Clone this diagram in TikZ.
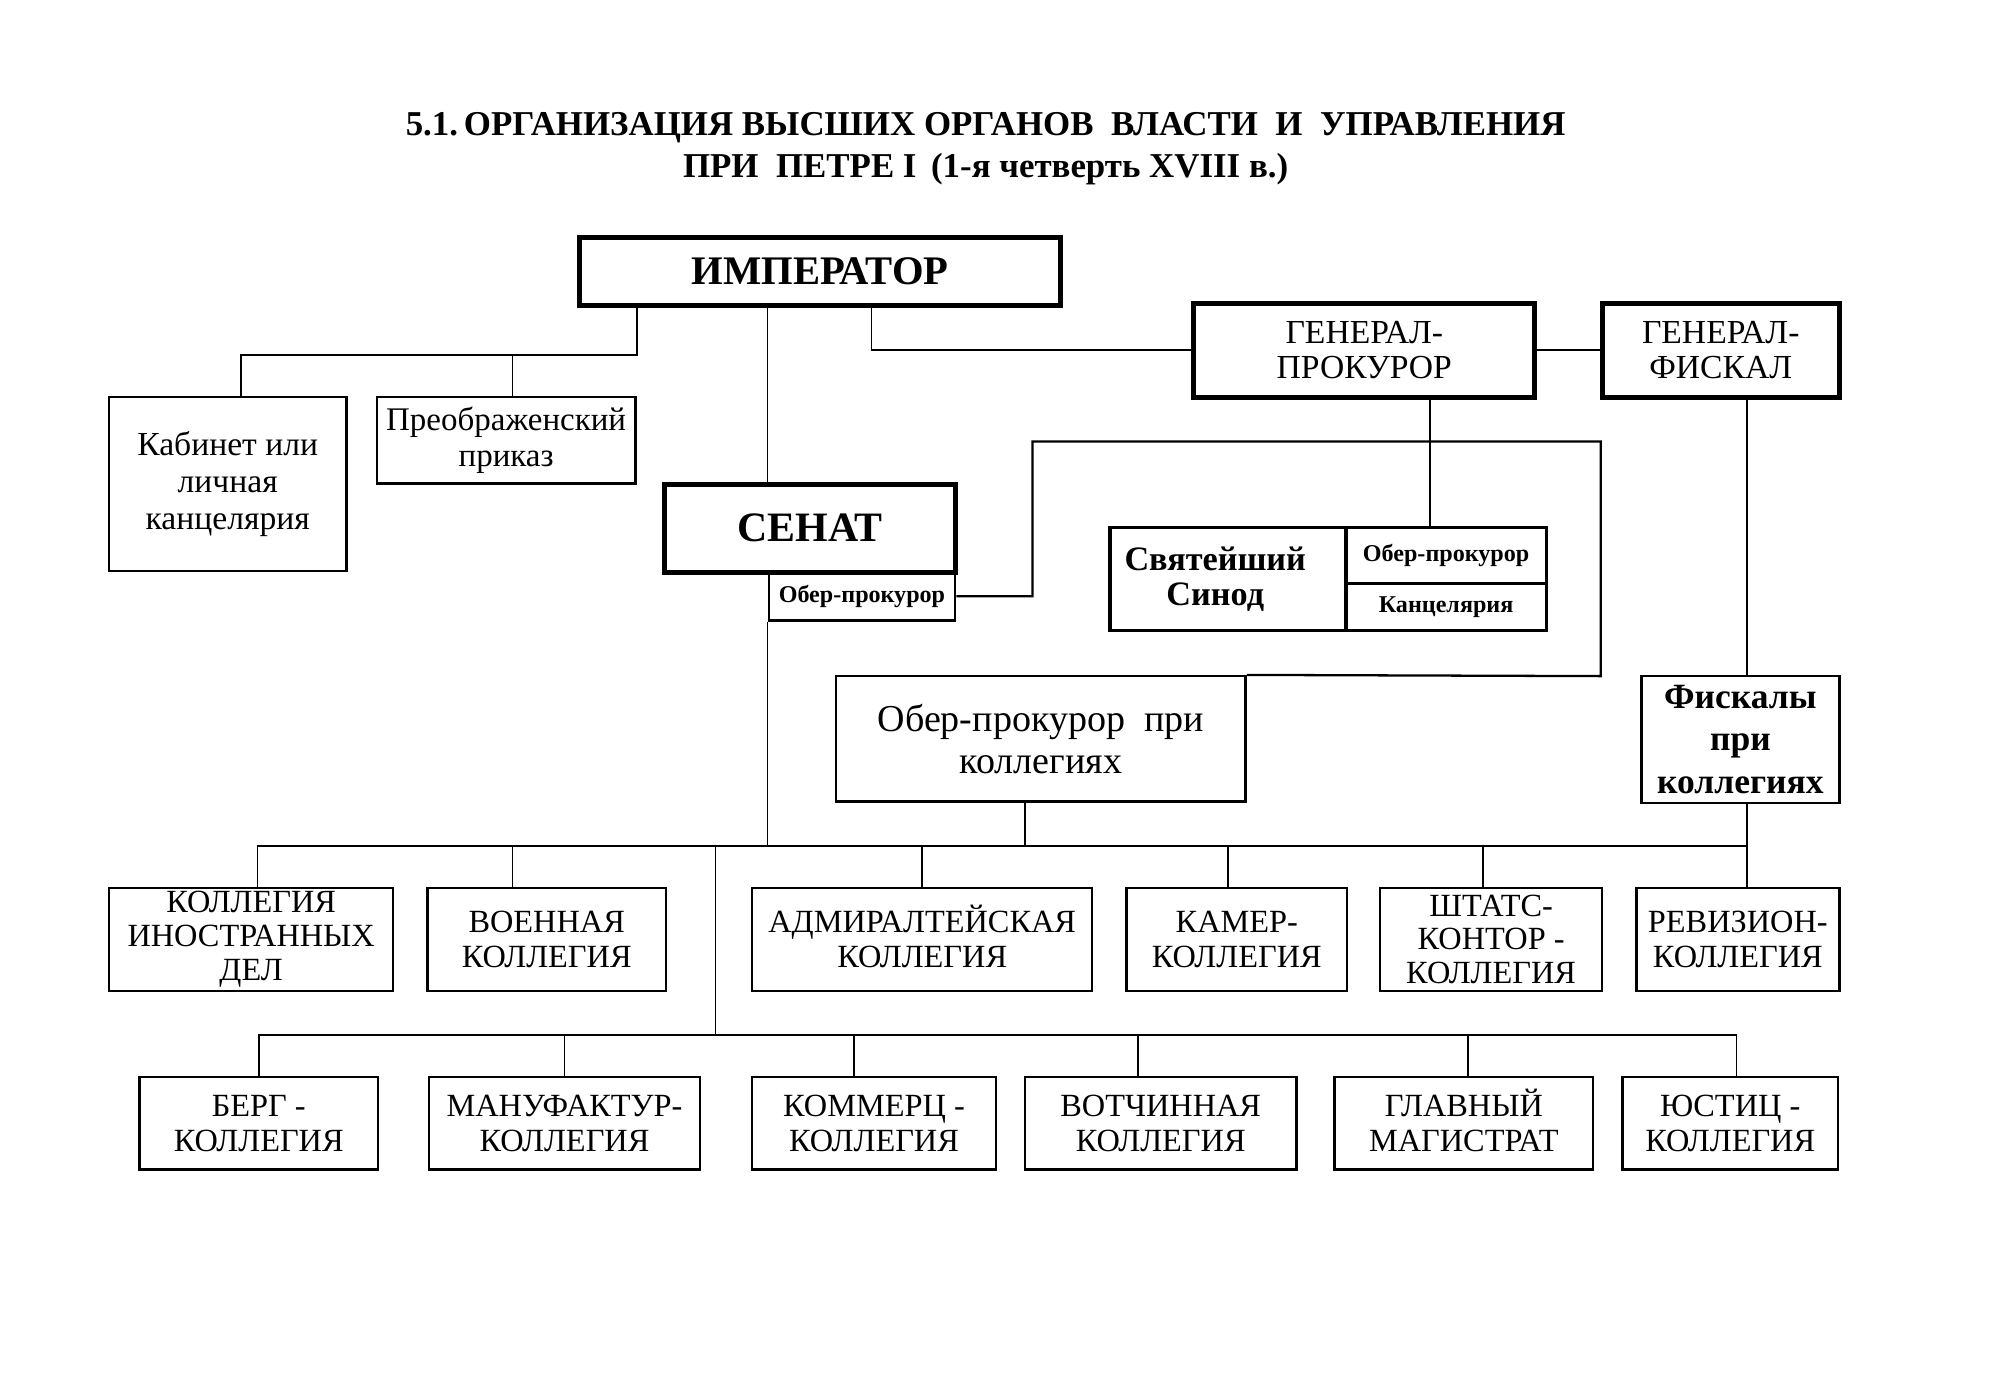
\documentclass[tikz,border=0pt]{standalone}
\usepackage{fontspec}
\setmainfont{Liberation Serif}
\begin{document}
\begin{tikzpicture}[x=1pt,y=-1pt,
  sz/.style 2 args={minimum width=#1pt, minimum height=#2pt},
  thinbox/.style={draw, line width=1.9pt, inner sep=0pt, align=center, font=\fontsize{25.5}{27.5}\selectfont},
  thickbox/.style={draw, line width=4pt, inner sep=0pt, align=center, font=\fontsize{26.5}{28}\selectfont},
  synbox/.style={draw, line width=2.6pt, inner sep=0pt, align=center},
  conn/.style={line width=1.4pt}]
\useasboundingbox (0,0) rectangle (1568,1092);

% title
\node[font=\bfseries\fontsize{27.5}{33}\selectfont, align=center] (title) at (777,117)
  {5.1.\,ОРГАНИЗАЦИЯ ВЫСШИХ ОРГАНОВ \ ВЛАСТИ \ И \ УПРАВЛЕНИЯ\\ПРИ \ ПЕТРЕ I \,(1-я четверть XVIII в.)};

% top level
\node[thickbox, sz={379}{54}, font=\bfseries\fontsize{32}{34}\selectfont] (emp) at (646.5,214) {ИМПЕРАТОР};
\node[thinbox, sz={187}{137}, font=\fontsize{26.5}{29}\selectfont] (kab) at (179.5,381.5) {Кабинет или\\личная\\канцелярия};
\node[thinbox, sz={204}{68}, font=\fontsize{26}{28}\selectfont] (preo) at (399,347) {Преображенский\\приказ};
\node[thickbox, sz={229}{69}, font=\bfseries\fontsize{33}{34}\selectfont] (senat) at (638.5,416.5) {СЕНАТ};
\node[thinbox, sz={147}{38}, font=\bfseries\fontsize{19}{20}\selectfont] (sober) at (679.5,470) {Обер-прокурор};
\node[thickbox, sz={269}{74}] (genpr) at (1075.5,276) {ГЕНЕРАЛ-\\ПРОКУРОР};
\node[thickbox, sz={187}{74}] (genf) at (1356.5,276) {ГЕНЕРАЛ-\\ФИСКАЛ};

% synod
\node[synbox, sz={186}{81}] (synl) at (968,456.5) {};
\node[font=\bfseries\fontsize{27}{28}\selectfont, align=center, inner sep=0pt] (synlt) at (958,456.5) {Святейший\\Синод};
\node[synbox, sz={158}{44}, font=\bfseries\fontsize{19}{20}\selectfont] (synt) at (1140,438) {Обер-прокурор};
\node[synbox, sz={158}{37}, font=\bfseries\fontsize{19}{20}\selectfont] (synb) at (1140,478.5) {Канцелярия};

\node[thinbox, sz={323}{99}, font=\fontsize{30}{33}\selectfont] (oberk) at (820.5,582.5) {Обер-прокурор \ при\\коллегиях};
\node[thinbox, sz={156}{100}, font=\bfseries\fontsize{28}{33.5}\selectfont] (fisk) at (1372,583) {Фискалы\\при\\коллегиях};

% row 1
\node[thinbox, sz={224}{81}, font=\fontsize{25.5}{26.5}\selectfont] (kid) at (198,740.5) {КОЛЛЕГИЯ\\ИНОСТРАННЫХ\\ДЕЛ};
\node[thinbox, sz={188}{81}] (voen) at (431,740.5) {ВОЕННАЯ\\КОЛЛЕГИЯ};
\node[thinbox, sz={268}{81}] (adm) at (727,740.5) {АДМИРАЛТЕ\smash{Й}СКАЯ\\КОЛЛЕГИЯ};
\node[thinbox, sz={174}{81}] (kam) at (975,740.5) {КАМЕР-\\КОЛЛЕГИЯ};
\node[thinbox, sz={175}{81}, font=\fontsize{25.5}{26.5}\selectfont] (shtat) at (1175.5,740.5) {ШТАТС-\\КОНТОР -\\КОЛЛЕГИЯ};
\node[thinbox, sz={160}{81}] (rev) at (1370,740.5) {РЕВИЗИОН-\\КОЛЛЕГИЯ};

% row 2
\node[thinbox, sz={188}{73}] (berg) at (204,885.5) {БЕРГ -\\КОЛЛЕГИЯ};
\node[thinbox, sz={214}{73}] (manuf) at (445,885.5) {МАНУФАКТУР-\\КОЛЛЕГИЯ};
\node[thinbox, sz={192}{73}] (kom) at (689,885.5) {КОММЕРЦ -\\КОЛЛЕГИЯ};
\node[thinbox, sz={214}{73}] (votch) at (915,885.5) {ВОТЧИННАЯ\\КОЛЛЕГИЯ};
\node[thinbox, sz={204}{73}] (glav) at (1154,885.5) {ГЛАВНЫ\smash{Й}\\МАГИСТРАТ};
\node[thinbox, sz={170}{73}] (yust) at (1364,885.5) {ЮСТИЦ -\\КОЛЛЕГИЯ};

% connectors: emperor
\draw[conn] (emp.south -| preo.east) -- ++(0,37) coordinate (jA) -| ([xshift=10.5pt]kab.north);
\draw[conn] ([xshift=5pt]preo.north) -- ([xshift=5pt]preo.north |- jA);
\draw[conn] (emp.south -| sober.west) -- (senat.north -| sober.west);
\draw[conn] ([xshift=40.5pt]emp.south) |- (genpr.west);
\draw[conn] (genpr.east) -- (genf.west);
\draw[conn] ([xshift=51.5pt]genpr.south) -- ([xshift=51.5pt]genpr.south |- synt.north);
\draw[conn] ([xshift=5pt]fisk.north) -- ([xshift=5pt]fisk.north |- genf.south);

% senate ober-prokuror loop
\draw[line width=1.8pt] (sober.east) -- ++(60,0) -- ++(0,-122) -- ++(448,0) -- ++(0,185) -- (oberk.north east);

% bus row 1
\draw[conn] (sober.south west) -- ++(0,177) coordinate (jS);
\draw[conn] ([xshift=5pt]fisk.south) -- ++(0,33) coordinate (busR);
\draw[conn] (busR) -| ([xshift=5pt]kid.north);
\draw[conn] ([xshift=-12.5pt]oberk.south) -- ([xshift=-12.5pt]oberk.south |- busR);
\draw[conn] ([xshift=-27pt]voen.north) -- ([xshift=-27pt]voen.north |- busR);
\draw[conn] (adm.north) -- (adm.north |- busR);
\draw[conn] ([xshift=-7pt]kam.north) -- ([xshift=-7pt]kam.north |- busR);
\draw[conn] ([xshift=-6.5pt]shtat.north) -- ([xshift=-6.5pt]shtat.north |- busR);
\draw[conn] ([xshift=7pt]rev.north) -- ([xshift=7pt]rev.north |- busR);

% bus row 2
\draw[conn] ([xshift=-41pt]jS) -- ++(0,149) coordinate (jC);
\draw[conn] (berg.north) |- ([xshift=5pt]yust.north |- jC) -- ([xshift=5pt]yust.north);
\draw[conn] (manuf.north) -- (manuf.north |- jC);
\draw[conn] ([xshift=-16pt]kom.north) -- ([xshift=-16pt]kom.north |- jC);
\draw[conn] ([xshift=-18pt]votch.north) -- ([xshift=-18pt]votch.north |- jC);
\draw[conn] ([xshift=3pt]glav.north) -- ([xshift=3pt]glav.north |- jC);
\end{tikzpicture}
\end{document}
